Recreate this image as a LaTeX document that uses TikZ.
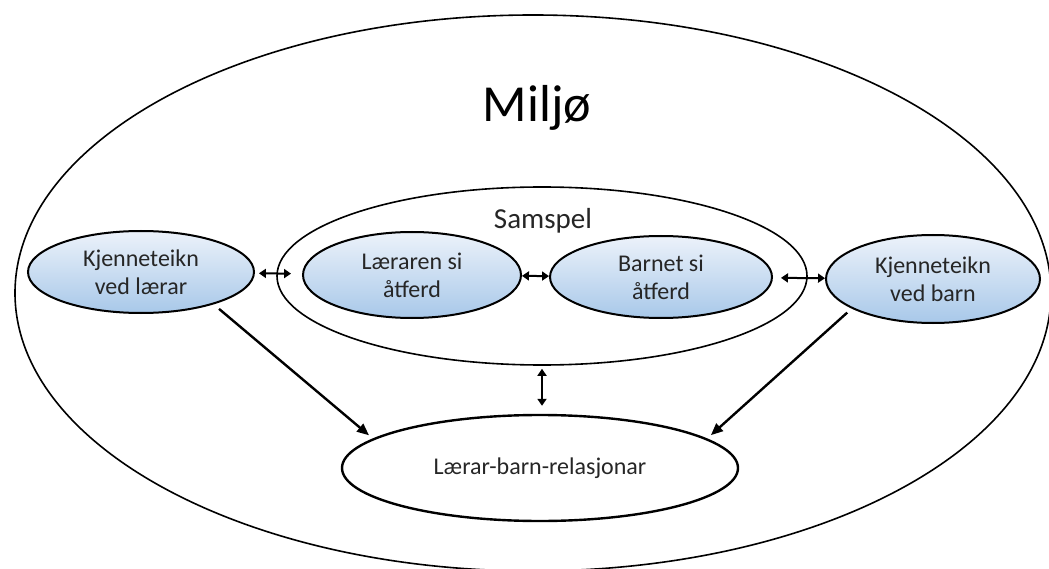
\documentclass[tikz,border=0pt]{standalone}
\usepackage{fontspec}
\setmainfont{Carlito}
\usepackage{tikz}
\usetikzlibrary{arrows.meta,positioning,shapes.geometric}
\definecolor{blobtop}{RGB}{236,242,250}
\definecolor{blobbot}{RGB}{168,200,233}

\begin{document}
\begin{tikzpicture}[x=1pt, y=-1pt,
  ring/.style={ellipse, draw, inner sep=0pt},
  blob/.style={ellipse, draw, line width=2pt, top color=blobtop, bottom color=blobbot,
    inner sep=0pt, align=center, text=black!85, font=\fontsize{24}{28}\selectfont},
  both/.style={{Triangle[length=7pt,width=9pt]}-{Triangle[length=7pt,width=9pt]}, line width=2pt},
  >={Triangle[length=12pt,width=10pt]}
]
  \useasboundingbox (0,0) rectangle (1049,569);
  \clip (0,0) rectangle (1049,569);

  \node[ring, line width=1.6pt, minimum width=1036pt, minimum height=556pt] (env) at (533,293) {};
  \node[font=\fontsize{52}{60}\selectfont] (milj) at (537,108) {Miljø};

  \node[ring, line width=1.6pt, minimum width=530pt, minimum height=178pt] (sam) at (542,276) {};
  \node[text=black!85, font=\fontsize{29}{34}\selectfont] (samt) at (543,221) {Samspel};

  \node[blob, minimum width=226pt, minimum height=82pt] (kl) at (141,272) {Kjenneteikn\\ved lærar};
  \node[blob, minimum width=218pt, minimum height=86pt] (lae) at (412,275) {Læraren si\\åtferd};
  \node[blob, minimum width=222pt, minimum height=82pt] (bar) at (661,277) {Barnet si\\åtferd};
  \node[blob, minimum width=214pt, minimum height=88pt] (kb) at (933,279) {Kjenneteikn\\ved barn};

  \node[ring, line width=2.4pt, minimum width=396pt, minimum height=106pt,
    text=black!85, font=\fontsize{24}{28}\selectfont] (rel) at (540,468) {Lærar-barn-relasjonar};

  \draw[both, shorten <=4pt, shorten >=11pt] (kl) -- (lae);
  \draw[both] (lae) -- (bar);
  \draw[both, shorten <=8pt] (bar) -- (kb);
  \draw[both, shorten <=3pt, shorten >=8pt] (sam.south) -- (sam.south |- rel.north);
  \draw[->, line width=2.4pt, shorten <=7pt, shorten >=5pt] (kl.-24) -- (rel.170);
  \draw[->, line width=2.4pt, shorten <=6pt, shorten >=5pt] (kb.-160) -- (rel.10);
\end{tikzpicture}
\end{document}
